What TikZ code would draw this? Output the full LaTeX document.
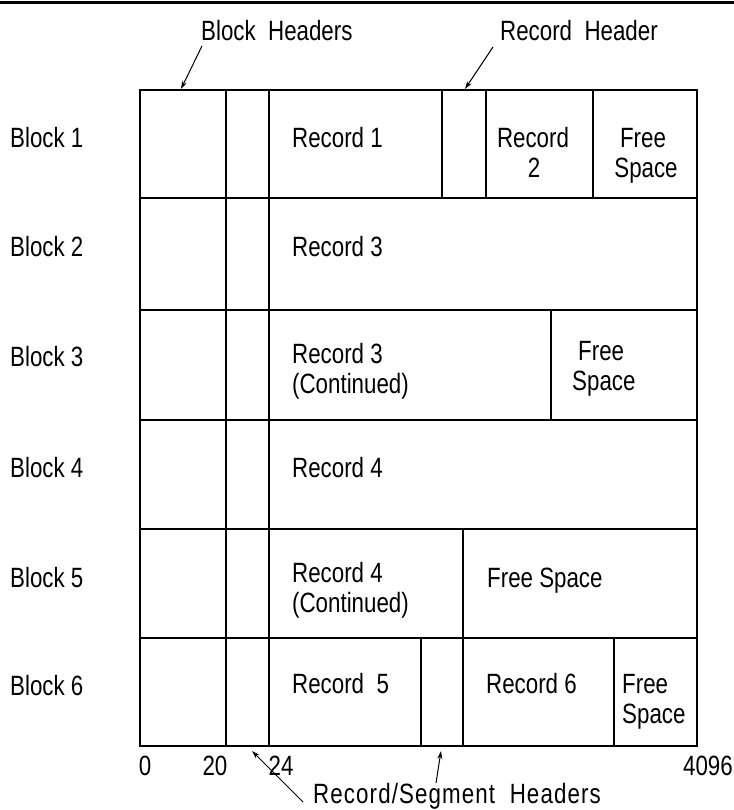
\documentclass[tikz,border=0pt]{standalone}
\usepackage{fontspec}
\setmainfont{Liberation Sans}[FakeStretch=0.8]
\newfontfamily\widefont{Liberation Sans}[FakeStretch=0.8, LetterSpace=4]
\usetikzlibrary{arrows.meta}
\begin{document}
\begin{tikzpicture}[x=1bp,y=-1bp,
  lbl/.style={inner sep=0pt, font=\fontsize{28}{30}\selectfont},
  gridline/.style={line width=1.5bp, line cap=rect},
  ptr/.style={line width=1bp, -{Stealth[length=8bp,width=5bp]}}]
\useasboundingbox (0,0) rectangle (734,810);
% top rule
\coordinate (tl) at (0,3); \coordinate (tr) at (734,3);
\draw[line width=3bp] (tl) -- (tr);
% grid
\draw[gridline] (140,90) rectangle (697,746);
\foreach \yy in {198,310,420,529,638} \draw[gridline] (140,\yy) -- (697,\yy);
\draw[gridline] (226,90) -- (226,746);
\draw[gridline] (269,90) -- (269,746);
\draw[gridline] (442,90) -- (442,198);
\draw[gridline] (486,90) -- (486,198);
\draw[gridline] (593,90) -- (593,198);
\draw[gridline] (551,310) -- (551,420);
\draw[gridline] (463,529) -- (463,638);
\draw[gridline] (421,638) -- (421,746);
\draw[gridline] (463,638) -- (463,746);
\draw[gridline] (614,638) -- (614,746);
% block labels
\node[lbl, anchor=base west] (b1) at (10,147) {Block 1};
\node[lbl, anchor=base west] (b2) at (10,256) {Block 2};
\node[lbl, anchor=base west] (b3) at (10,366) {Block 3};
\node[lbl, anchor=base west] (b4) at (10,477) {Block 4};
\node[lbl, anchor=base west] (b5) at (10,587) {Block 5};
\node[lbl, anchor=base west] (b6) at (10,695) {Block 6};
% row 1
\node[lbl, anchor=base west] (r1) at (292,147) {Record 1};
\node[lbl, anchor=base] (r2a) at (533,147) {Record};
\node[lbl, anchor=base] (r2b) at (534,177) {2};
\node[lbl, anchor=base] (f1a) at (643,147) {Free};
\node[lbl, anchor=base] (f1b) at (646,177) {Space};
% row 2
\node[lbl, anchor=base west] (r3) at (292,256) {Record 3};
% row 3
\node[lbl, anchor=base west] (r3ca) at (292,363) {Record 3};
\node[lbl, anchor=base west] (r3cb) at (292,393) {(Continued)};
\node[lbl, anchor=base west] (f3a) at (578,360) {Free};
\node[lbl, anchor=base west] (f3b) at (572,390) {Space};
% row 4
\node[lbl, anchor=base west] (r4) at (292,477) {Record 4};
% row 5
\node[lbl, anchor=base west] (r4ca) at (292,582) {Record 4};
\node[lbl, anchor=base west] (r4cb) at (292,612) {(Continued)};
\node[lbl, anchor=base west] (f5) at (487,587) {Free Space};
% row 6
\node[lbl, anchor=base west] (r5) at (292,693) {Record\ \ 5};
\node[lbl, anchor=base west] (r6) at (486,693) {Record 6};
\node[lbl, anchor=base west] (f6a) at (622,693) {Free};
\node[lbl, anchor=base west] (f6b) at (622,723) {Space};
% scale
\node[lbl, anchor=base] (s0) at (145,775) {0};
\node[lbl, anchor=base] (s20) at (215,775) {20};
\node[lbl, anchor=base] (s24) at (281,775) {24};
\node[lbl, anchor=base east] (s4096) at (733,775) {4096};
% callouts
\node[lbl, anchor=base west] (bh) at (201,41) {Block\ \ Headers};
\node[lbl, anchor=base west] (rh) at (500,41) {Record\ \ Header};
\node[lbl, anchor=base west, font=\widefont\fontsize{28}{30}\selectfont] (rsh) at (313,803) {Record/Segment\ \ Headers};
\coordinate (bht) at (202,46); \coordinate (bhh) at (181,89);
\coordinate (rht) at (493,47); \coordinate (rhh) at (465,89);
\coordinate (rst1) at (303,802); \coordinate (rsh1) at (252,751);
\coordinate (rst2) at (436,783); \coordinate (rsh2) at (441,751);
\draw[ptr] (bht) -- (bhh);
\draw[ptr] (rht) -- (rhh);
\draw[ptr] (rst1) -- (rsh1);
\draw[ptr] (rst2) -- (rsh2);
\end{tikzpicture}
\end{document}
